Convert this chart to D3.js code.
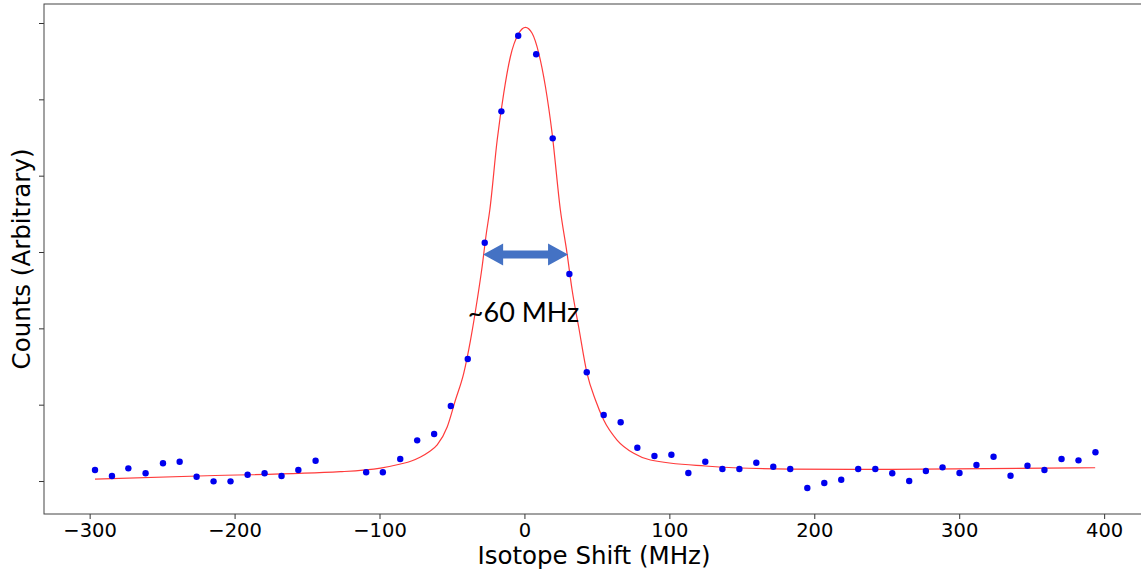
<!DOCTYPE html>
<html>
<head>
<meta charset="utf-8">
<script src="https://cdn.jsdelivr.net/npm/d3@7"></script>
<style>
  body { margin: 0; background: #fff; }
  svg { display: block; }
</style>
</head>
<body>
<script>
// measured points (isotope shift in MHz, counts in arbitrary units)
var shiftMHz = [-296.3, -284.6, -273.3, -261.4, -249.4, -237.9, -226.2, -214.5, -202.8, -191.0,
    -179.3, -167.6, -156.0, -144.1, -109.2, -97.7, -85.7, -74.0, -62.3, -50.8,
    -39.1, -27.4, -15.9, -4.3, 8.1, 19.5, 31.0, 43.0, 54.7, 66.4,
    77.9, 89.7, 101.4, 113.1, 124.8, 136.6, 148.3, 160.0, 171.7, 183.4,
    195.2, 206.9, 218.6, 230.3, 242.1, 253.8, 265.5, 277.0, 288.5, 300.2,
    311.9, 323.7, 335.4, 347.1, 358.8, 370.6, 382.3, 394.0];
var counts = [1144, 1066, 1166, 1101, 1232, 1253, 1056, 996, 996, 1083,
    1101, 1066, 1144, 1266, 1114, 1114, 1288, 1533, 1616, 1983,
    2598, 4122, 5843, 6833, 6590, 5489, 3712, 2424, 1865, 1769,
    1436, 1328, 1345, 1105, 1253, 1157, 1157, 1240, 1187, 1157,
    908, 974, 1017, 1157, 1157, 1101, 1000, 1131, 1179, 1105,
    1210, 1318, 1069, 1200, 1144, 1288, 1271, 1376];

// fitted curve
var fitShift = [-296.3, -219, -126.9, -99.3, -85.5, -78, -71.7, -66, -60.2, -53.3,
    -47.6, -41.9, -37.2, -32.6, -29.2, -26.4, -23.9, -18.8, -14.3, -9.7,
    -3.9, 0.7, 5.3, 9.9, 14.5, 19.1, 24.8, 29.4, 32.9, 37.4,
    43.2, 49.0, 54.7, 63.9, 75.4, 86.9, 124.8, 183.4, 253.8, 393.8];
var fitCounts = [1026, 1069, 1122, 1170, 1223, 1262, 1314, 1380, 1472, 1707,
    2061, 2411, 2847, 3371, 3807, 4230, 4550, 5467, 6079, 6558,
    6865, 6943, 6865, 6603, 6165, 5555, 4550, 3983, 3502, 3021,
    2411, 2061, 1799, 1537, 1363, 1275, 1197, 1157, 1153, 1174];

var xTicks = [-300, -200, -100, 0, 100, 200, 300, 400];
var yTicks = [1000, 2000, 3000, 4000, 5000, 6000, 7000];

// FWHM annotation
var fwhmEnds = [-28.5, 30.1];
var fwhmLevel = 3967;
var fwhmLabel = "~60 MHz";

var W = 1141, H = 570;
var margin = {top: 4, right: -3, bottom: 56, left: 44},
    width = W - margin.left - margin.right,
    height = H - margin.top - margin.bottom;

var xScale = d3.scaleLinear().domain([-331.5, 427.5]).range([0, width]);
var yScale = d3.scaleLinear().domain([568, 7249]).range([height, 0]);

var svg = d3.select("body").append("svg")
    .attr("width", W)
    .attr("height", H)
    .append("g")
    .attr("transform", "translate(" + margin.left + "," + margin.top + ")");

// x axis
var xAxis = d3.axisBottom(xScale).tickValues(xTicks).tickSize(5).tickPadding(4)
    .tickFormat(d3.format("d"));
var gx = svg.append("g")
    .attr("transform", "translate(0," + height + ")")
    .call(xAxis);
gx.select(".domain").remove();
gx.selectAll(".tick line").attr("stroke", "#333");
gx.selectAll(".tick text")
    .attr("font-family", "DejaVu Sans")
    .attr("font-size", "19.5px")
    .attr("fill", "#000");

// y axis, ticks only
var yAxis = d3.axisLeft(yScale).tickValues(yTicks).tickSize(5).tickFormat("");
var gy = svg.append("g").call(yAxis);
gy.select(".domain").remove();
gy.selectAll(".tick line").attr("stroke", "#333");

// frame
svg.append("rect")
    .attr("x", 0)
    .attr("y", 0)
    .attr("width", width)
    .attr("height", height)
    .attr("fill", "none")
    .attr("stroke", "#444")
    .attr("stroke-width", 1);

// fit line
var fitData = fitShift.map(function(d, i) { return [d, fitCounts[i]]; });
var line = d3.line()
    .x(function(d) { return xScale(d[0]); })
    .y(function(d) { return yScale(d[1]); })
    .curve(d3.curveMonotoneX);
svg.append("path")
    .datum(fitData)
    .attr("d", line)
    .attr("fill", "none")
    .attr("stroke", "#ff3b3b")
    .attr("stroke-width", 1.2);

// data points
svg.selectAll(".dot")
    .data(shiftMHz)
    .enter().append("circle")
    .attr("class", "dot")
    .attr("cx", function(d) { return xScale(d); })
    .attr("cy", function(d, i) { return yScale(counts[i]); })
    .attr("r", 3.2)
    .attr("fill", "#0000ee");

// double-headed arrow for the FWHM
var ax0 = xScale(fwhmEnds[0]), ax1 = xScale(fwhmEnds[1]), ay = yScale(fwhmLevel);
var headL = 20, headH = 11, shaft = 4;
var arrowPts = [
    [ax0, ay],
    [ax0 + headL, ay - headH],
    [ax0 + headL, ay - shaft],
    [ax1 - headL, ay - shaft],
    [ax1 - headL, ay - headH],
    [ax1, ay],
    [ax1 - headL, ay + headH],
    [ax1 - headL, ay + shaft],
    [ax0 + headL, ay + shaft],
    [ax0 + headL, ay + headH]
];
svg.append("polygon")
    .attr("points", arrowPts.map(function(p) { return p.join(","); }).join(" "))
    .attr("fill", "#4472c4");

svg.append("text")
    .attr("x", (ax0 + ax1) / 2 - 2)
    .attr("y", 317.5)
    .attr("text-anchor", "middle")
    .attr("font-family", "Lato")
    .attr("font-size", "27px")
    .attr("fill", "#000")
    .text(fwhmLabel);

// axis labels
svg.append("text")
    .attr("x", width / 2)
    .attr("y", height + 50)
    .attr("text-anchor", "middle")
    .attr("font-family", "DejaVu Sans")
    .attr("font-size", "24.5px")
    .attr("fill", "#000")
    .text("Isotope Shift (MHz)");

svg.append("text")
    .attr("transform", "translate(-14," + (height / 2) + ") rotate(-90)")
    .attr("text-anchor", "middle")
    .attr("font-family", "DejaVu Sans")
    .attr("font-size", "24.5px")
    .attr("fill", "#000")
    .text("Counts (Arbitrary)");
</script>
</body>
</html>
